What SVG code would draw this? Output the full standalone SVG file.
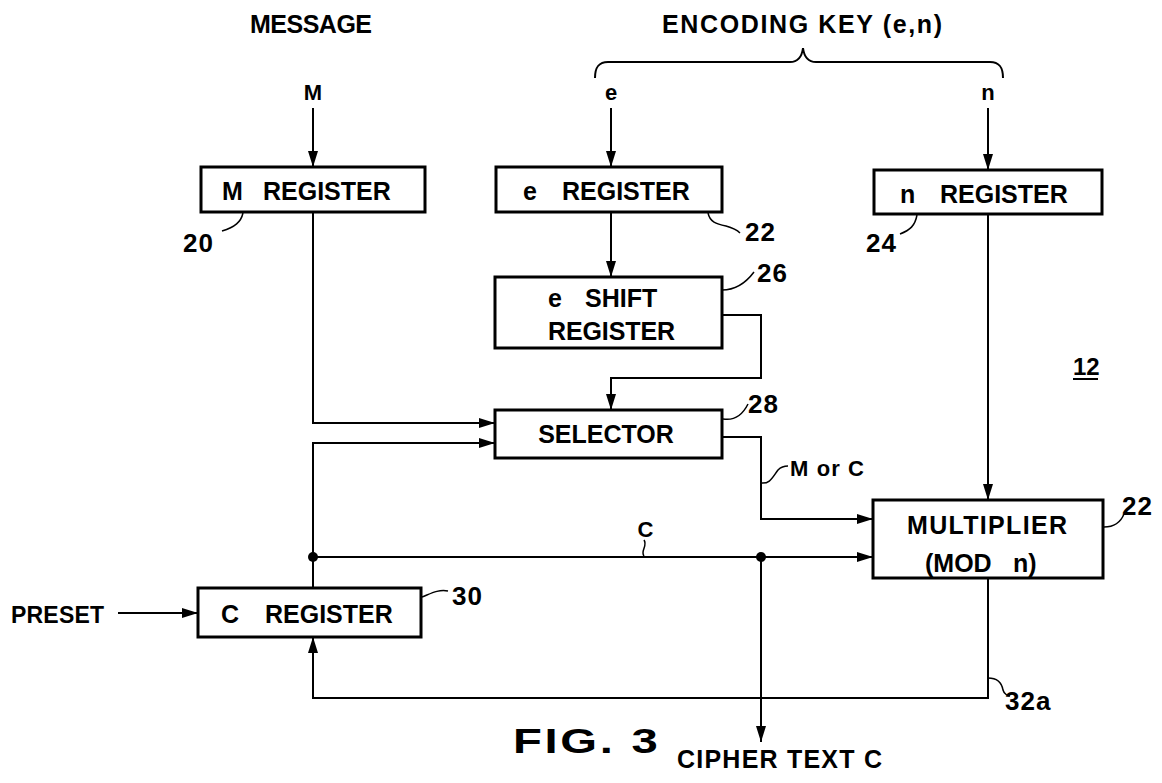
<svg xmlns="http://www.w3.org/2000/svg" width="1162" height="783" viewBox="0 0 1162 783">
<style>
.box{fill:#fff;stroke:#000;stroke-width:3}
.ln{fill:none;stroke:#000;stroke-width:2}
.ld{fill:none;stroke:#000;stroke-width:1.5}
.t{font-family:"Liberation Sans",Arial,sans-serif;font-weight:bold;fill:#000}
.b{font-size:25px}
.s{font-size:22px;letter-spacing:1px}
.num{font-size:26px;letter-spacing:1px}
</style>
<defs>
<marker id="ah" viewBox="0 0 16 10" refX="16" refY="5" markerWidth="16" markerHeight="10" markerUnits="userSpaceOnUse" orient="auto">
<path d="M0,0 L16,5 L0,10 z" fill="#000"/>
</marker>
</defs>
<rect width="1162" height="783" fill="#fff"/>

<g id="headings">
<text class="t b" x="250" y="33" textLength="122" lengthAdjust="spacing">MESSAGE</text>
<text class="t b" x="662" y="33" textLength="280" lengthAdjust="spacing">ENCODING KEY (e,n)</text>
<path class="ln" d="M595,78 C595,68 598,62 608,62 L790,62 C798,62 802,56 803,48 C804,56 808,62 816,62 L990,62 C1000,62 1003,68 1003,78"/>
<text class="t" font-size="22" x="313" y="100" text-anchor="middle">M</text>
<text class="t" font-size="22" x="611" y="100" text-anchor="middle">e</text>
<text class="t" font-size="22" x="988" y="100" text-anchor="middle">n</text>
</g>

<g id="m_register">
<rect class="box" x="201" y="167" width="224" height="45"/>
<text class="t b" x="222" y="200">M <tspan x="263">REGISTER</tspan></text>
<path class="ld" d="M243,213 C241,222 235,227 222,231"/>
<text class="t num" x="183" y="252">20</text>
</g>

<g id="e_register">
<rect class="box" x="496" y="167" width="226" height="45"/>
<text class="t b" x="523" y="200">e <tspan x="562">REGISTER</tspan></text>
<path class="ld" d="M708,213 C710,222 716,224 726,226 C733,228 737,230 740,233"/>
<text class="t num" x="745" y="241">22</text>
</g>

<g id="n_register">
<rect class="box" x="874" y="170" width="228" height="44"/>
<text class="t b" x="900" y="203">n <tspan x="940">REGISTER</tspan></text>
<path class="ld" d="M917,215 C915,226 910,230 900,234"/>
<text class="t num" x="866" y="252">24</text>
</g>

<g id="e_shift_register">
<rect class="box" x="495" y="277" width="227" height="71"/>
<text class="t b" x="548" y="307">e <tspan x="585">SHIFT</tspan></text>
<text class="t b" x="548" y="340" textLength="127" lengthAdjust="spacing">REGISTER</text>
<path class="ld" d="M722,290 C735,290 745,284 754,272"/>
<text class="t num" x="757" y="282">26</text>
</g>

<g id="selector">
<rect class="box" x="495" y="410" width="227" height="48"/>
<text class="t b" x="606" y="443" text-anchor="middle">SELECTOR</text>
<path class="ld" d="M723,419 C735,421 743,414 748,404"/>
<text class="t num" x="748" y="413">28</text>
</g>

<g id="multiplier">
<rect class="box" x="873" y="500" width="230" height="78"/>
<text class="t b" x="907" y="534" textLength="160" lengthAdjust="spacing">MULTIPLIER</text>
<text class="t b" x="925" y="572">(MOD <tspan x="1013">n)</tspan></text>
<path class="ld" d="M1104,527 C1113,527 1120,524 1124,514"/>
<text class="t num" x="1122" y="515">22</text>
</g>

<g id="c_register">
<rect class="box" x="198" y="588" width="223" height="49"/>
<text class="t b" x="221" y="623">C <tspan x="265">REGISTER</tspan></text>
<path class="ld" d="M422,597 C430,594 438,589 448,591"/>
<text class="t num" x="452" y="605">30</text>
</g>

<g id="preset">
<text class="t" font-size="23" x="11" y="623" textLength="93" lengthAdjust="spacing">PRESET</text>
</g>

<g id="label_12">
<text class="t" font-size="24" x="1073" y="375">12</text>
<line x1="1073" y1="379" x2="1098" y2="379" stroke="#000" stroke-width="2"/>
</g>

<g id="connectors">
<line class="ln" x1="313" y1="108" x2="313" y2="167" marker-end="url(#ah)"/>
<line class="ln" x1="611" y1="108" x2="611" y2="167" marker-end="url(#ah)"/>
<line class="ln" x1="988" y1="108" x2="988" y2="170" marker-end="url(#ah)"/>
<line class="ln" x1="611" y1="212" x2="611" y2="277" marker-end="url(#ah)"/>
<polyline class="ln" points="722,315 761,315 761,378 611,378 611,410" marker-end="url(#ah)"/>
<polyline class="ln" points="313,212 313,423 495,423" marker-end="url(#ah)"/>
<polyline class="ln" points="313,588 313,443 495,443" marker-end="url(#ah)"/>
<polyline class="ln" points="722,437 761,437 761,519 873,519" marker-end="url(#ah)"/>
<line class="ln" x1="988" y1="214" x2="988" y2="500" marker-end="url(#ah)"/>
<line class="ln" x1="313" y1="557" x2="873" y2="557" marker-end="url(#ah)"/>
<line class="ln" x1="761" y1="557" x2="761" y2="742" marker-end="url(#ah)"/>
<polyline class="ln" points="988,578 988,698 313,698 313,637" marker-end="url(#ah)"/>
<line class="ln" x1="118" y1="613" x2="198" y2="613" marker-end="url(#ah)"/>
<circle cx="313" cy="557" r="5" fill="#000"/>
<circle cx="761" cy="557" r="5" fill="#000"/>
<path class="ld" d="M761,483 C770,484 772,478 778,470 C782,466 785,466 788,466"/>
<text class="t s" x="790" y="476" textLength="75" lengthAdjust="spacing">M or C</text>
<path class="ld" d="M644,556 C640,551 648,546 644,540"/>
<text class="t s" x="646" y="537" text-anchor="middle">C</text>
<path class="ld" d="M988,678 C998,678 1002,684 1003,690 C1004,694 1008,696 1010,696"/>
<text class="t num" x="1005" y="710">32a</text>
<text class="t" font-size="25" x="677" y="768" textLength="205" lengthAdjust="spacing">CIPHER TEXT C</text>
</g>

<g id="caption">
<text class="t" font-size="35" letter-spacing="2" transform="translate(513,753) scale(1.35,1)" x="0" y="0">FIG. 3</text>
</g>
</svg>
